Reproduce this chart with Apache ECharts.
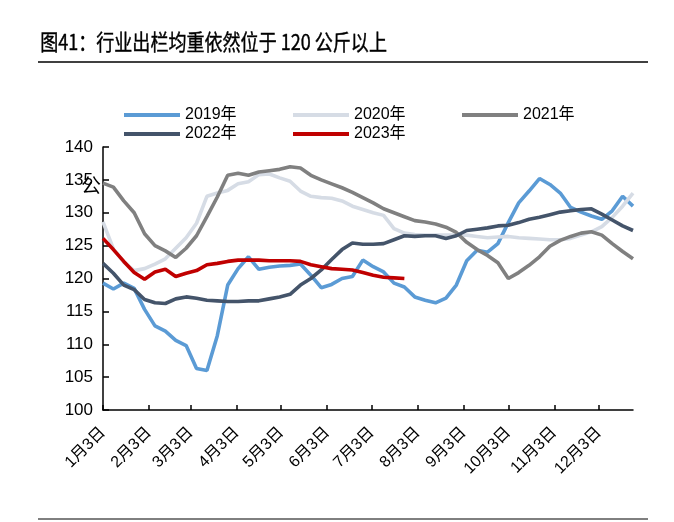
<!DOCTYPE html>
<html><head><meta charset="utf-8">
<script src="https://cdn.jsdelivr.net/npm/echarts@6/dist/echarts.min.js"></script>
<style>html,body{margin:0;padding:0;background:#fff}#c{width:674px;height:522px}</style>
</head><body><div id="c"></div>
<script>
// days after 1月3日 for each weekly observation
const weekDays = [0,7,14,21,28,35,42,49,56,63,70,77,84,91,98,105,112,119,126,133,140,147,154,161,168,175,182,189,196,203,210,217,224,231,238,245,252,259,266,273,280,287,294,301,308,315,322,329,336,343,350,357];
// month tick positions (days after 1月3日) and labels
const tickDays = [0,31,59,90,120,151,181,212,243,273,304,334];
const tickLabels = ['1月3日','2月3日','3月3日','4月3日','5月3日','6月3日','7月3日','8月3日','9月3日','10月3日','11月3日','12月3日'];
const seriesNames = ['2019年','2020年','2021年','2022年','2023年'];
const y2019 = [119.3,118.4,119.3,118.5,115.3,112.8,112.0,110.6,109.8,106.3,106.0,111.3,119.0,121.5,123.3,121.4,121.7,121.9,122.0,122.2,120.5,118.6,119.1,120.0,120.3,122.8,121.8,121.0,119.3,118.7,117.2,116.7,116.3,117.0,119.0,122.7,124.3,124.0,125.3,128.5,131.5,133.3,135.2,134.3,133.0,130.8,130.1,129.5,129.0,130.3,132.5,131.0];
const y2020 = [128.6,124.5,122.5,121.2,121.5,122.2,123.0,124.6,126.2,128.4,132.5,133.0,133.4,134.4,134.7,135.8,135.9,135.3,134.8,133.3,132.5,132.3,132.2,131.8,131.0,130.5,130.0,129.6,127.6,126.9,126.7,126.6,126.6,126.6,126.6,126.6,126.4,126.2,126.3,126.4,126.2,126.1,126.0,125.9,125.9,126.1,126.6,127.1,127.9,129.3,131.0,133.0];
const y2021 = [134.5,133.9,131.8,130.0,126.8,125.0,124.2,123.2,124.6,126.5,129.4,132.4,135.7,136.0,135.7,136.2,136.4,136.6,137.0,136.8,135.7,135.0,134.4,133.8,133.1,132.3,131.5,130.6,130.0,129.4,128.8,128.6,128.3,127.8,127.0,125.5,124.4,123.5,122.4,120.0,120.9,122.0,123.3,124.9,125.8,126.4,126.9,127.1,126.6,125.3,124.1,123.0];
const y2022 = [122.3,120.8,119.0,118.3,116.8,116.3,116.2,116.9,117.2,117.0,116.7,116.6,116.5,116.5,116.6,116.6,116.9,117.2,117.6,119.0,120.0,121.3,122.9,124.4,125.4,125.2,125.2,125.3,125.9,126.5,126.4,126.5,126.5,126.1,126.5,127.3,127.5,127.7,128.0,128.1,128.5,129.0,129.3,129.7,130.1,130.3,130.5,130.6,129.8,128.9,128.0,127.3];
const y2023 = [126.1,124.4,122.6,120.9,119.9,121.0,121.4,120.3,120.8,121.2,122.1,122.3,122.6,122.8,122.8,122.8,122.7,122.7,122.7,122.6,122.1,121.8,121.5,121.4,121.3,120.9,120.5,120.2,120.1,120.0];

const colors = ['#5B9BD5','#D6DCE5','#808080','#44546A','#C00000'];
const values = [y2019,y2020,y2021,y2022,y2023];

const chart = echarts.init(document.getElementById('c'));
const font = '"Liberation Sans", Arial, "Noto Sans CJK SC", sans-serif';
const legendPos = [[119,102],[288,102],[457,102],[119,121],[288,121]];

chart.setOption({
  animation: false,
  backgroundColor: '#fff',
  grid: {left: 103, right: 41, top: 147, bottom: 112},
  legend: seriesNames.map((n, i) => ({
    data: [n], left: legendPos[i][0], top: legendPos[i][1],
    icon: 'rect', itemWidth: 56, itemHeight: 4, itemGap: 5,
    textStyle: {fontSize: 16, color: '#000', fontFamily: font}
  })),
  xAxis: {
    type: 'value', min: 0, max: 357,
    splitLine: {show: false},
    axisLine: {lineStyle: {color: '#000', width: 1.5}},
    axisTick: {show: true, inside: true, length: 5, customValues: tickDays, lineStyle: {color: '#000', width: 1.5}},
    axisLabel: {
      customValues: tickDays, rotate: 45, fontSize: 16, color: '#000', fontFamily: font, margin: 20,
      formatter: v => tickLabels[tickDays.indexOf(v)]
    }
  },
  yAxis: {
    type: 'value', min: 100, max: 140, interval: 5,
    splitLine: {show: false},
    axisLine: {show: true, lineStyle: {color: '#000', width: 1.5}},
    axisTick: {show: true, inside: true, length: 6, lineStyle: {color: '#000', width: 1.5}},
    axisLabel: {fontSize: 17, color: '#000', fontFamily: font, margin: 10}
  },
  series: seriesNames.map((n, i) => ({
    name: n, type: 'line', showSymbol: false, symbol: 'none',
    data: values[i].map((v, k) => [weekDays[k], v]),
    itemStyle: {color: colors[i]},
    lineStyle: {color: colors[i], width: 3.6},
    z: 2 + i
  })),
  graphic: [
    {type: 'text', left: 40, top: 30, scaleX: 0.82,
     style: {text: '图41：行业出栏均重依然位于 120 公斤以上', fontSize: 22, fill: '#000', fontFamily: '"Noto Sans CJK SC", sans-serif', stroke: '#000', lineWidth: 0.4}},
    {type: 'line', shape: {x1: 38, y1: 62, x2: 648, y2: 62}, style: {stroke: '#000', lineWidth: 1.5}},
    {type: 'line', shape: {x1: 38, y1: 519, x2: 648, y2: 519}, style: {stroke: '#000', lineWidth: 1}},
    {type: 'text', left: 81, top: 175, z: 10,
     style: {text: '公', fontSize: 20, fill: '#000', fontFamily: '"Noto Sans CJK SC", sans-serif'}}
  ]
});
</script>
</body></html>
